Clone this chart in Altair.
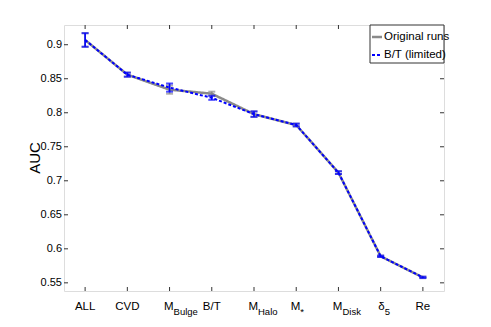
import altair as alt
import pandas as pd

categories = ["ALL", "CVD", "M_Bulge", "B/T", "M_Halo", "M*", "M_Disk", "d5", "Re"]
label_main = ["ALL", "CVD", "M", "B/T", "M", "M", "M", "δ", "Re"]
label_sub = ["", "", "Bulge", "", "Halo", "*", "Disk", "5", ""]

orig_vals = [0.907, 0.856, 0.834, 0.828, 0.798, 0.782, 0.712, 0.589, 0.558]
orig_err = [0.010, 0.003, 0.006, 0.003, 0.004, 0.002, 0.002, 0.001, 0.001]
lim_vals = [0.907, 0.856, 0.837, 0.822, 0.798, 0.782, 0.712, 0.589, 0.558]
lim_err = [0.010, 0.003, 0.006, 0.003, 0.004, 0.002, 0.002, 0.001, 0.001]

series_names = ["Original runs", "B/T (limited)"]
y_ticks = [0.55, 0.6, 0.65, 0.7, 0.75, 0.8, 0.85, 0.9]
y_title = "AUC"

W, H = 380, 266
FONT = "Liberation Sans Narrow, Liberation Sans, Arial"
GRAY = "#8a8a8a"
BLUE = "#0000ff"

rows = []
for s, vals, errs in [(series_names[0], orig_vals, orig_err), (series_names[1], lim_vals, lim_err)]:
    for c, v, e in zip(categories, vals, errs):
        rows.append({"series": s, "cat": c, "auc": v, "lo": v - e, "hi": v + e})
df = pd.DataFrame(rows)

lab = pd.DataFrame({"cat": categories, "main": label_main, "sub": label_sub})
yt = pd.DataFrame({"t": y_ticks})

xs = alt.Scale(type="point", domain=categories, padding=0.5)
ys = alt.Scale(domain=[0.538, 0.929], nice=False, zero=False)
X = alt.X("cat:N", scale=xs, sort=categories, axis=None)


def Y(field):
    return alt.Y(field, scale=ys, axis=None)


def series_layers(name, color, dash, width):
    d = df[df.series == name]
    base = alt.Chart(d)
    line = base.mark_line(color=color, strokeWidth=width, strokeDash=dash).encode(
        x=X, y=Y("auc:Q"))
    bar = base.mark_rule(color=color, strokeWidth=1.6).encode(
        x=X, y=Y("lo:Q"), y2="hi:Q")
    cap_lo = base.mark_tick(color=color, orient="horizontal", size=7, thickness=2).encode(
        x=X, y=Y("lo:Q"))
    cap_hi = base.mark_tick(color=color, orient="horizontal", size=7, thickness=2).encode(
        x=X, y=Y("hi:Q"))
    return [line, bar, cap_lo, cap_hi]


yticks_left = alt.Chart(yt).mark_rule(color="#333", strokeWidth=1).encode(
    y=Y("t:Q"), x=alt.value(0), x2=alt.value(4))
yticks_right = alt.Chart(yt).mark_rule(color="#333", strokeWidth=1).encode(
    y=Y("t:Q"), x=alt.value(W - 4), x2=alt.value(W))
ylabels = alt.Chart(yt).transform_calculate(lbl="format(datum.t, '.2~f')").mark_text(
    font=FONT, fontSize=11, align="right", baseline="middle", color="black").encode(
    y=Y("t:Q"), x=alt.value(-2), text="lbl:N")
ytitle = alt.Chart(yt).transform_filter("datum.t == 0.9").mark_text(
    font="Liberation Sans", fontSize=15, angle=270, align="center", baseline="middle",
    color="black", text=y_title).encode(x=alt.value(-29), y=alt.value(133))

xticks_bot = alt.Chart(lab).mark_rule(color="#333", strokeWidth=1).encode(
    x=X, y=alt.value(H - 4), y2=alt.value(H))
xticks_top = alt.Chart(lab).mark_rule(color="#333", strokeWidth=1).encode(
    x=X, y=alt.value(0), y2=alt.value(4))

plain = alt.Chart(lab).transform_filter("datum.sub == ''").mark_text(
    font=FONT, fontSize=11.5, align="center", baseline="alphabetic", color="black").encode(
    x=X, y=alt.value(285), text="main:N")
main_s = alt.Chart(lab).transform_filter("datum.sub != ''").mark_text(
    font=FONT, fontSize=11.5, align="right", baseline="alphabetic", dx=4, color="black").encode(
    x=X, y=alt.value(285), text="main:N")
sub_s = alt.Chart(lab).transform_filter("datum.sub != ''").mark_text(
    font=FONT, fontSize=9.5, align="left", baseline="alphabetic", dx=4, color="black").encode(
    x=X, y=alt.value(290), text="sub:N")

# legend
leg = pd.DataFrame({"name": series_names, "row": [12, 30]})
leg_box = alt.Chart(leg).transform_filter("datum.row == 12").mark_rect(
    fill="white", stroke="#333", strokeWidth=1).encode(
    x=alt.value(306), x2=alt.value(W), y=alt.value(0), y2=alt.value(38))
leg_orig = alt.Chart(leg).transform_filter("datum.row == 12").mark_rule(
    color=GRAY, strokeWidth=2.5).encode(
    x=alt.value(308), x2=alt.value(318), y=alt.value(12))
leg_lim = alt.Chart(leg).transform_filter("datum.row == 30").mark_rule(
    color=BLUE, strokeWidth=2, strokeDash=[3, 2]).encode(
    x=alt.value(308), x2=alt.value(318), y=alt.value(30))
leg_text = alt.Chart(leg).mark_text(
    font=FONT, fontSize=11.5, align="left", baseline="middle", color="black").encode(
    x=alt.value(320), y=alt.Y("row:Q", scale=None, axis=None), text="name:N")

layers = ([yticks_left, yticks_right, ylabels, ytitle, xticks_bot, xticks_top]
          + series_layers(series_names[0], GRAY, [1, 0], 2.5)
          + series_layers(series_names[1], BLUE, [3, 2], 2)
          + [plain, main_s, sub_s, leg_box, leg_orig, leg_lim, leg_text])

chart = alt.layer(*layers).properties(
    width=W, height=H,
    autosize=alt.AutoSizeParams(type="none"),
    padding={"left": 56, "top": 17, "right": 30, "bottom": 34},
).configure_view(stroke="#333", strokeWidth=1).configure(background="white")

chart.save("out.html", embed_options={"renderer": "svg", "actions": False})
